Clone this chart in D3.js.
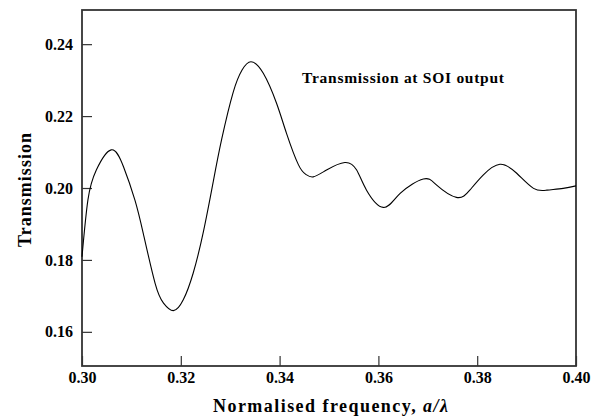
<!DOCTYPE html>
<html>
<head>
<meta charset="utf-8">
<script src="https://cdn.jsdelivr.net/npm/d3@7"></script>
<style>
  html, body { margin: 0; padding: 0; background: #fff; }
  svg { display: block; }
</style>
</head>
<body>
<svg id="chart" width="598" height="420"></svg>
<script>
// ---- data ----
const freq = [0.3000, 0.3012, 0.3029, 0.3059, 0.3084, 0.3107, 0.3124, 0.3148, 0.3165, 0.3185,
              0.3205, 0.3225, 0.3246, 0.3266, 0.3283, 0.3306, 0.3324, 0.3342, 0.3367, 0.3394,
              0.3414, 0.3438, 0.3453, 0.3468, 0.3495, 0.3532, 0.3556, 0.3576, 0.3610, 0.3644,
              0.3691, 0.3718, 0.3758, 0.3785, 0.3812, 0.3846, 0.3880, 0.3914, 0.3941, 0.3974,
              0.4000];
const trans = [0.1809, 0.1967, 0.2050, 0.2106, 0.2059, 0.1967, 0.1874, 0.1735, 0.1680, 0.1659,
               0.1689, 0.1763, 0.1880, 0.2020, 0.2137, 0.2266, 0.2328, 0.2351, 0.2319, 0.2235,
               0.2152, 0.2065, 0.2038, 0.2031, 0.2050, 0.2071, 0.2050, 0.1994, 0.1946, 0.1985,
               0.2025, 0.2008, 0.1974, 0.1994, 0.2036, 0.2066, 0.2041, 0.1999, 0.1994, 0.1999,
               0.2006];
const xTicks = [0.30, 0.32, 0.34, 0.36, 0.38, 0.40];
const yTicks = [0.16, 0.18, 0.20, 0.22, 0.24];
const xTitle = "Normalised frequency, ";
const xTitleVar = "a/λ";
const yTitle = "Transmission";
const note = "Transmission at SOI output";

const FONT = "'Liberation Serif', 'Times New Roman', Times, 'DejaVu Serif', serif";

// ---- layout ----
const svg = d3.select("#chart");
const L = 82, R = 576, T = 10, B = 366;

const x = d3.scaleLinear().domain([0.30, 0.40]).range([L, R]);
const y = d3.scaleLinear().domain([0.1505, 0.2495]).range([B, T]);

// frame
svg.append("rect")
  .attr("x", L).attr("y", T).attr("width", R - L).attr("height", B - T)
  .attr("fill", "none").attr("stroke", "#333").attr("stroke-width", 1.8);

// x axis
const gx = svg.append("g").attr("transform", `translate(0,${B})`)
  .call(d3.axisBottom(x).tickValues(xTicks).tickFormat(d3.format(".2f"))
    .tickSizeInner(-10).tickSizeOuter(0).tickPadding(6));
gx.attr("font-family", FONT).attr("font-size", 16).attr("font-weight", "bold");
gx.select(".domain").remove();
gx.selectAll(".tick line").attr("stroke", "#333").attr("stroke-width", 1.2);
gx.selectAll(".tick text").attr("fill", "#000");

// y axis
const gy = svg.append("g").attr("transform", `translate(${L},0)`)
  .call(d3.axisLeft(y).tickValues(yTicks).tickFormat(d3.format(".2f"))
    .tickSizeInner(-10).tickSizeOuter(0).tickPadding(9));
gy.attr("font-family", FONT).attr("font-size", 16).attr("font-weight", "bold");
gy.select(".domain").remove();
gy.selectAll(".tick line").attr("stroke", "#333").attr("stroke-width", 1.2);
gy.selectAll(".tick text").attr("fill", "#000");

// curve
const line = d3.line()
  .x((d, i) => x(freq[i]))
  .y(d => y(d))
  .curve(d3.curveNatural);
svg.append("path")
  .datum(trans)
  .attr("d", line)
  .attr("fill", "none")
  .attr("stroke", "#000")
  .attr("stroke-width", 1.1);

// annotation
svg.append("text")
  .attr("x", 302).attr("y", 83)
  .attr("font-family", FONT).attr("font-weight", "bold")
  .attr("font-size", 15.5)
  .attr("textLength", 202).attr("lengthAdjust", "spacing")
  .text(note);

// x title
const xt = svg.append("text")
  .attr("x", 213).attr("y", 412)
  .attr("font-family", FONT).attr("font-weight", "bold")
  .attr("font-size", 18)
  .attr("textLength", 235).attr("lengthAdjust", "spacing");
xt.append("tspan").text(xTitle);
xt.append("tspan").attr("font-style", "italic").text(xTitleVar);

// y title
svg.append("text")
  .attr("transform", "translate(31,190) rotate(-90)")
  .attr("text-anchor", "middle")
  .attr("font-family", FONT).attr("font-weight", "bold")
  .attr("font-size", 18)
  .attr("textLength", 114).attr("lengthAdjust", "spacing")
  .text(yTitle);
</script>
</body>
</html>
